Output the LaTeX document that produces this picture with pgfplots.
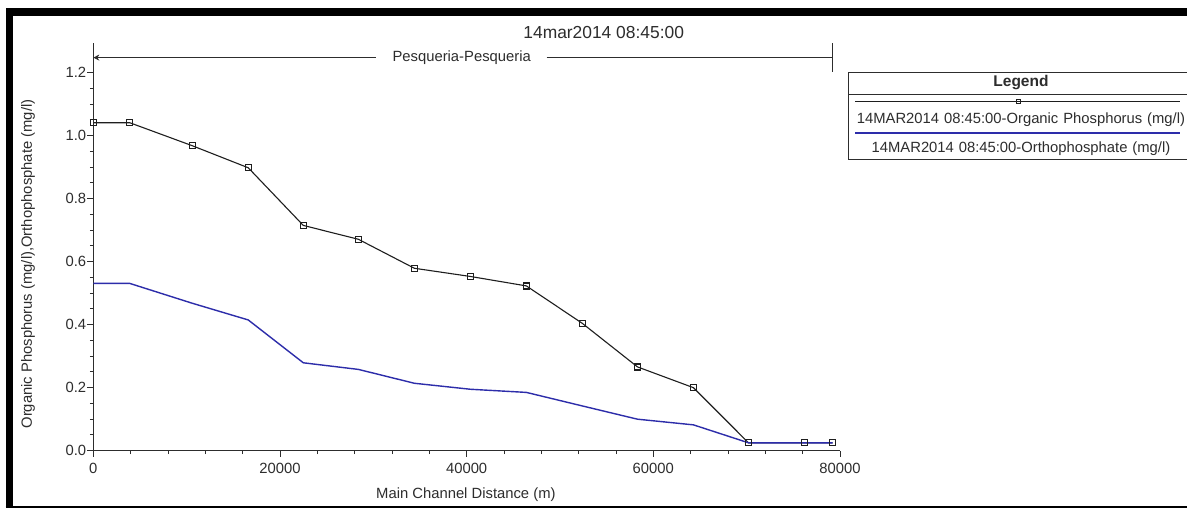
\documentclass[border=0pt]{standalone}
\usepackage{pgfplots}
\pgfplotsset{compat=1.18}
\usetikzlibrary{arrows.meta}
\usepackage{fontspec}
\setmainfont{Liberation Sans}
\definecolor{orgc}{RGB}{30,30,30}
\definecolor{orthc}{RGB}{45,45,170}
\definecolor{axc}{RGB}{45,45,45}
\pgfplotstableread{
x y
0 1.041
3900 1.041
10600 0.968
16600 0.898
22500 0.715
28400 0.671
34400 0.579
40400 0.553
46400 0.523
52400 0.404
58300 0.266
64300 0.200
70200 0.025
76200 0.025
79200 0.025
}\organic
\pgfplotstableread{
x y
0 0.531
3900 0.531
10600 0.468
16600 0.415
22500 0.279
28400 0.258
34400 0.214
40400 0.195
46400 0.185
52400 0.142
58300 0.100
64300 0.082
70200 0.025
76200 0.025
79200 0.025
}\ortho
\begin{document}
\begin{tikzpicture}[x=1pt,y=1pt]
\fill[white] (0,0) rectangle (1187,508);
\fill[black] (5.7,492) rectangle (1187,499.7);
\fill[black] (5.7,0) rectangle (13.3,499.7);
\draw[black, line width=1.5pt] (5.7,1) -- (1187,1);
\node[font=\fontsize{17.4}{20}\selectfont, text=axc] at (603.7,475) {14mar2014 08:45:00};
\begin{axis}[at={(93.3pt,57.3pt)}, anchor=south west, scale only axis,
 width=746.7pt, height=407.7pt,
 xmin=0, xmax=80000, ymin=0, ymax=1.294, clip=false,
 axis x line*=bottom, axis y line*=left,
 axis line style={axc, line width=1pt},
 xtick={0,20000,40000,60000,80000},
 ytick={0,0.2,0.4,0.6,0.8,1.0,1.2},
 minor x tick num=4, minor y tick num=3,
 tick align=outside, tick style={axc, line width=0.9pt},
 major tick length=6pt, minor tick length=3.5pt,
 scaled x ticks=false, scaled y ticks=false,
 /pgf/number format/assume math mode=true,
 xticklabel style={/pgf/number format/set thousands separator={}, /pgf/number format/fixed, inner sep=1pt, yshift=-5pt},
 yticklabel style={/pgf/number format/fixed, /pgf/number format/fixed zerofill, /pgf/number format/precision=1, inner sep=1pt},
 ticklabel style={font=\fontsize{14.8}{17}\selectfont, text=axc},
 xlabel={Main Channel Distance (m)},
 ylabel={Organic Phosphorus (mg/l),Orthophosphate (mg/l)},
 label style={font=\fontsize{14.8}{17}\selectfont, text=axc},
 xlabel style={at={(axis description cs:0.499,-0.1087)}, anchor=center},
 ylabel style={at={(axis description cs:-0.0875,0.458)}, anchor=center},
 legend style={at={(axis description cs:1.0107,0.9281)}, anchor=north west,
   draw=axc, line width=1pt, inner sep=0pt, row sep=0pt, column sep=0pt,
   font=\fontsize{14.8}{17}\selectfont, text=axc,
   cells={anchor=base west},
   nodes={inner sep=0pt, text width=345pt, align=center}},
]
\addlegendimage{legend image code/.code={\draw[overlay, axc, line width=1pt] (0pt,-8.8pt) -- (345pt,-8.8pt);}}
\addlegendentry[font=\fontsize{15.5}{17}\selectfont\bfseries, text height=13.2pt, text depth=8.8pt]{Legend}
\addplot[color=orgc, line width=1.1pt, mark=square, mark size=3pt, mark options={solid, line width=1.3pt},
  legend image code/.code={
    \draw[overlay, mark=none] (7pt,22.3pt) -- (332pt,22.3pt);
    \draw[overlay] plot[mark=square, mark size=2pt, mark options={solid}] coordinates {(170pt,22.3pt)};
  }] table[x=x,y=y] {\organic};
\addlegendentry[text height=28.7pt, text depth=4pt]{14MAR2014 08:45:00-Organic Phosphorus (mg/l)}
\addplot[color=orthc, line width=1.4pt, mark=none,
  legend image code/.code={
    \draw[overlay] (7pt,19.7pt) -- (332pt,19.7pt);
  }] table[x=x,y=y] {\ortho};
\addlegendentry[text height=25pt, text depth=7.3pt]{14MAR2014 08:45:00-Orthophosphate (mg/l)}
% reach annotation
\draw[axc, line width=1.1pt, -{Stealth[length=6pt,width=6pt]}] (axis cs:30288,1.2476) -- (axis cs:0,1.2476);
\draw[axc, line width=1.1pt] (axis cs:48577,1.2476) -- (axis cs:79218,1.2476);
\draw[axc, line width=1.1pt] (axis cs:79218,1.2022) -- (axis cs:79218,1.294);
\node[font=\fontsize{14.8}{17}\selectfont, text=axc] at (axis cs:39470,1.2476) {Pesqueria-Pesqueria};
\end{axis}
\pgfresetboundingbox
\path[use as bounding box] (0,0) rectangle (1187,508);
\end{tikzpicture}
\end{document}
